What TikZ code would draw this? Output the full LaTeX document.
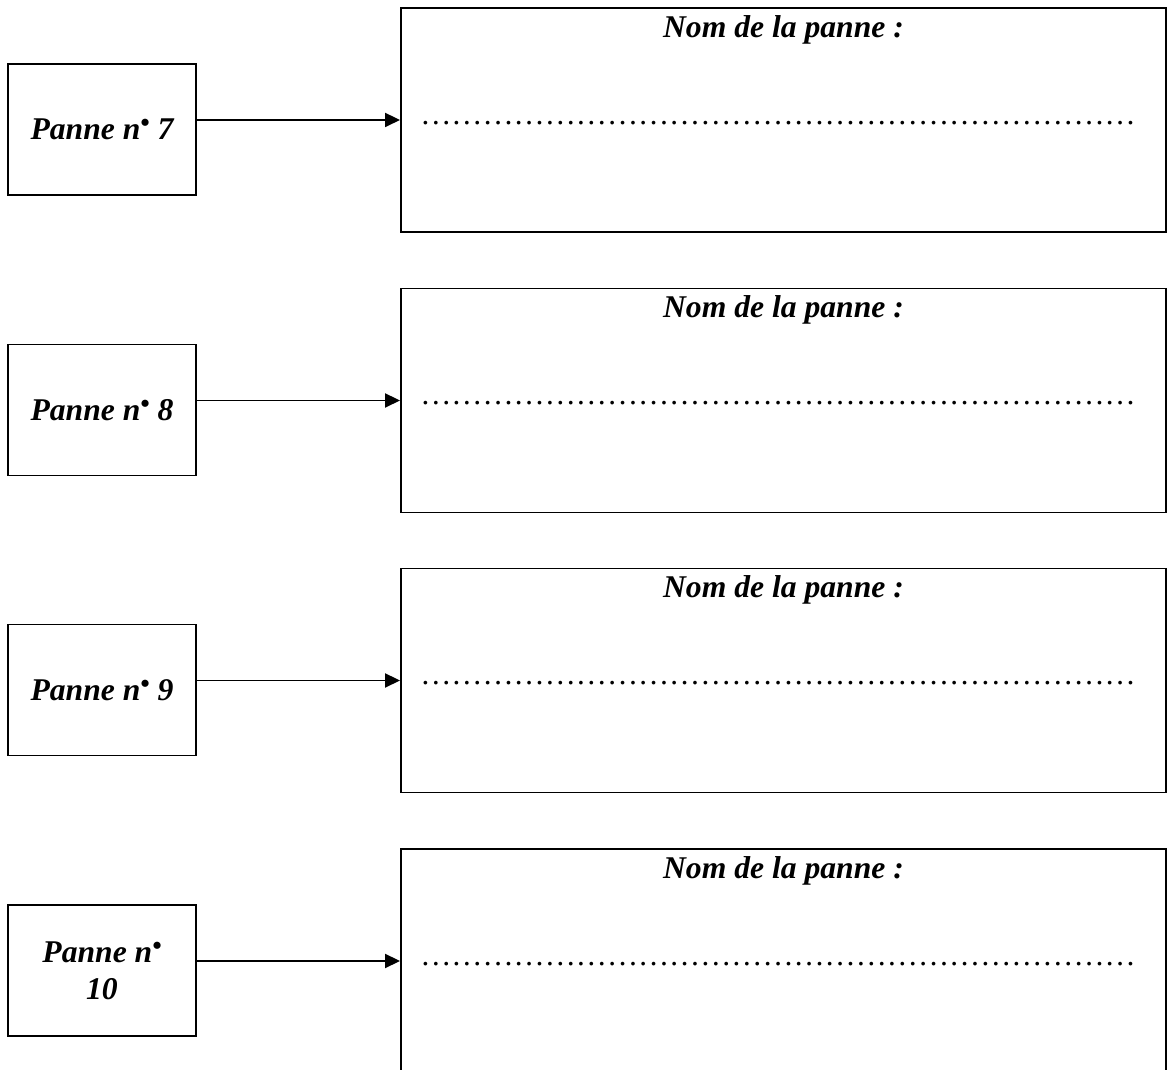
\documentclass[tikz,border=0pt]{standalone}
\usepackage{fontspec}
\setmainfont{Liberation Serif}
\usetikzlibrary{positioning,arrows.meta}

\newcommand{\pt}{\raisebox{4.5pt}{\fontsize{15}{15}\selectfont •}}
\newcommand{\dotsrow}{\foreach \i in {1,...,23}{…}}

\begin{document}
\begin{tikzpicture}[every node/.style={inner sep=0pt},
                    pbox/.style={draw,line width=1.1pt,minimum width=3.76cm,minimum height=2.62cm,
                                 align=center,font=\fontsize{18}{21}\selectfont\bfseries\itshape},
                    nbox/.style={draw,line width=1.1pt,minimum width=15.3cm,minimum height=4.48cm},
                    ttl/.style={font=\fontsize{18}{21}\selectfont\bfseries\itshape},
                    dotl/.style={font=\fontsize{17.7}{21}\selectfont},
                    lnk/.style={line width=1.1pt,-{Triangle[length=0.3cm,width=0.28cm]}}]
  \useasboundingbox (0,0) rectangle (23.36,21.4);
  \clip (0,0) rectangle (23.36,21.4);
  \node[pbox] (p7)  at (2.04,18.81) {Panne n\pt{} 7};
  \node[pbox] (p8)  at (2.04,13.20) {Panne n\pt{} 8};
  \node[pbox] (p9)  at (2.04,7.60)  {Panne n\pt{} 9};
  \node[pbox] (p10) at (2.04,1.99)  {Panne n\pt\\10};
  \node[nbox] (n7)  at (15.67,19.00) {};
  \node[nbox] (n8)  at (15.67,13.39) {};
  \node[nbox] (n9)  at (15.67,7.79)  {};
  \node[nbox] (n10) at (15.67,2.18)  {};
  \node[ttl,anchor=base] (t7)  at ([yshift=-0.6cm]n7.north)  {Nom de la panne :};
  \node[ttl,anchor=base] (t8)  at ([yshift=-0.6cm]n8.north)  {Nom de la panne :};
  \node[ttl,anchor=base] (t9)  at ([yshift=-0.6cm]n9.north)  {Nom de la panne :};
  \node[ttl,anchor=base] (t10) at ([yshift=-0.6cm]n10.north) {Nom de la panne :};
  \node[dotl,anchor=base west] (d7)  at ([xshift=0.4cm,yshift=-2.34cm]n7.north west)  {\dotsrow};
  \node[dotl,anchor=base west] (d8)  at ([xshift=0.4cm,yshift=-2.34cm]n8.north west)  {\dotsrow};
  \node[dotl,anchor=base west] (d9)  at ([xshift=0.4cm,yshift=-2.34cm]n9.north west)  {\dotsrow};
  \node[dotl,anchor=base west] (d10) at ([xshift=0.4cm,yshift=-2.34cm]n10.north west) {\dotsrow};
  \draw[lnk] (p7.east |- n7.west)   -- (n7.west);
  \draw[lnk] (p8.east |- n8.west)   -- (n8.west);
  \draw[lnk] (p9.east |- n9.west)   -- (n9.west);
  \draw[lnk] (p10.east |- n10.west) -- (n10.west);
\end{tikzpicture}
\end{document}
